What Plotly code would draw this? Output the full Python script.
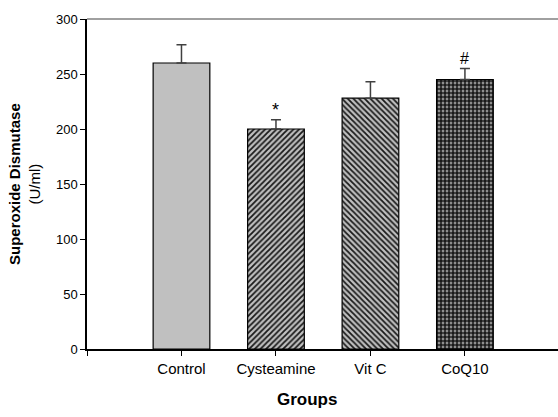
import plotly.graph_objects as go

categories = ["Control", "Cysteamine", "Vit C", "CoQ10"]
means = [260, 200, 228, 245]
errors = [16.5, 8.5, 15, 10]
marks = ["", "*", "", "#"]
pattern_shapes = ["", "/", "\\", "."]
y_ticks = [0, 50, 100, 150, 200, 250, 300]

xpos = [i + 1 for i in range(len(categories))]

FONT = "Arial, Liberation Sans, sans-serif"

fig = go.Figure()
fig.add_trace(go.Bar(
    x=xpos, y=means, width=0.6,
    marker=dict(
        color="#c0c0c0",
        line=dict(color="#000000", width=1.2),
        pattern=dict(shape=pattern_shapes, fgcolor="#1a1a1a", bgcolor="#c0c0c0",
                     size=4, solidity=[0, 0.45, 0.45, 0.75], fillmode="replace"),
    ),
    error_y=dict(type="data", symmetric=False, array=errors,
                 arrayminus=[0] * len(errors), color="#404040",
                 thickness=1.5, width=5),
    showlegend=False,
))

annotations = []
for x, m, e, t in zip(xpos, means, errors, marks):
    if t:
        annotations.append(dict(x=x, y=m + e, text=t, showarrow=False,
                                yanchor="bottom", yshift=0 if t == "#" else -2,
                                font=dict(family=FONT, size=16 if t == "#" else 18, color="#000")))

annotations.append(dict(xref="paper", yref="paper", x=0, y=0.5, xshift=-63,
                        text="<b>Superoxide Dismutase</b><br>(U/ml)", textangle=-90,
                        showarrow=False, xanchor="center", yanchor="middle",
                        font=dict(family=FONT, size=15, color="#000")))
annotations.append(dict(xref="paper", yref="paper", x=(307 - 87) / 471, y=0, yshift=-50,
                        text="<b>Groups</b>", showarrow=False,
                        xanchor="center", yanchor="middle",
                        font=dict(family=FONT, size=17, color="#000")))

fig.update_layout(
    width=558, height=417,
    margin=dict(l=87, r=0, t=19, b=68),
    plot_bgcolor="white", paper_bgcolor="white",
    font=dict(family=FONT, size=13, color="#000"),
    annotations=annotations,
    xaxis=dict(range=[0, 4.985], tickvals=[0] + xpos, ticktext=[""] + categories,
               ticks="outside", ticklen=5, tickwidth=1, tickcolor="#000",
               showline=True, linecolor="#000", linewidth=1.5,
               showgrid=False, zeroline=False,
               tickfont=dict(family=FONT, size=15, color="#000")),
    yaxis=dict(range=[0, 300], tickvals=y_ticks,
               ticks="outside", ticklen=5, tickwidth=1, tickcolor="#000",
               showline=True, linecolor="#000", linewidth=1.5,
               showgrid=False, zeroline=False,
               tickfont=dict(family=FONT, size=13, color="#000")),
    shapes=[dict(type="line", xref="paper", yref="paper", x0=0, x1=1, y0=1, y1=1,
                 line=dict(color="#808080", width=1.5))],
)

fig.write_html("out.html", config={"displayModeBar": False},
               post_script="document.body.style.margin='0';document.body.style.overflow='hidden';")
